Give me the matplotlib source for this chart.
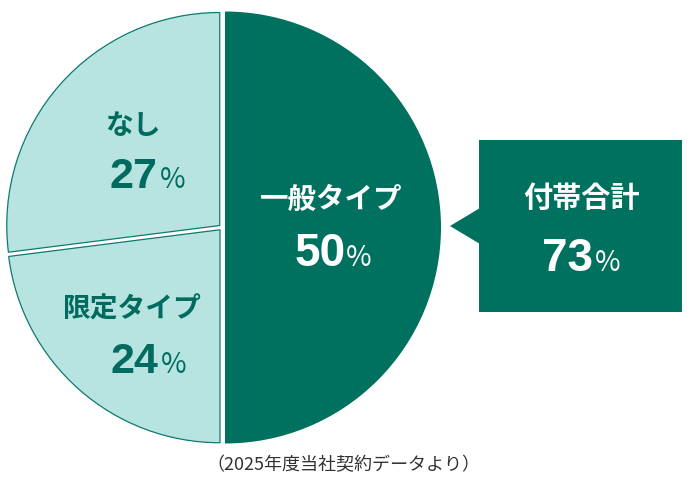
import matplotlib
matplotlib.use("Agg")
import matplotlib.pyplot as plt
from matplotlib.patches import Wedge, Rectangle, Polygon
import numpy as np

plt.rcParams['font.family'] = ['Noto Sans CJK JP', 'DejaVu Sans']

# ---- data ----
categories = ["一般タイプ", "なし", "限定タイプ"]
values = [50, 27, 24]
total_label = "付帯合計"
total_value = 73
footnote = "（2025年度当社契約データより）"

# ---- style ----
W, H = 690, 484
DARK = "#00705f"
LIGHT = "#b7e4e0"
EDGE = "#0e7a6e"
LTEXT = "#006b5e"

fig = plt.figure(figsize=(W / 100, H / 100), dpi=100)
ax = fig.add_axes([0, 0, 1, 1])
ax.set_xlim(0, W)
ax.set_ylim(0, H)
ax.set_aspect("equal")
ax.axis("off")

def Y(y_img):
    return H - y_img

cx, cy = 222, Y(227.5)
radii = [216, 213, 213]
faces = [DARK, LIGHT, LIGHT]
edges = [DARK, EDGE, EDGE]
d = 3.0

# angles: 一般 clockwise from top, なし counterclockwise from top, 限定 fills to bottom
a_gen = (90 - values[0] * 3.6, 90)
a_nashi = (90, 90 + values[1] * 3.6)
a_gen2 = (a_nashi[1], 270)
angles = [a_gen, a_nashi, a_gen2]

for (t1, t2), r, fc, ec in zip(angles, radii, faces, edges):
    mid = np.deg2rad((t1 + t2) / 2)
    ox, oy = d * np.cos(mid), d * np.sin(mid)
    w = Wedge((cx + ox, cy + oy), r, t1, t2, facecolor=fc, edgecolor=ec,
              linewidth=0.9 if fc == LIGHT else 0)
    ax.add_patch(w)

# ---- labels ----
num_font = dict(family=['Liberation Sans', 'DejaVu Sans'], fontweight='bold')
pct_font = dict(family=['Noto Sans CJK JP', 'DejaVu Sans'], fontweight='normal')

def label(name, val, lx, ly, num_right, base_y, pct_left, color, lsize, nsize, psize):
    ax.text(lx, Y(ly), name, ha='center', va='center', fontsize=lsize,
            fontweight='bold', color=color)
    ax.text(num_right, Y(base_y), f"{val}", ha='right', va='baseline',
            fontsize=nsize, color=color, **num_font)
    ax.text(pct_left, Y(base_y), "%", ha='left', va='baseline',
            fontsize=psize, color=color, **pct_font)

label(categories[0], values[0], 331, 200, 346, 266, 346, "white", 20.5, 33, 20)
label(categories[1], values[1], 133, 126, 157, 188, 160, LTEXT, 20, 31, 20)
label(categories[2], values[2], 132, 310, 158, 373, 161, LTEXT, 20, 31, 20)

# ---- callout ----
ax.add_patch(Rectangle((479, Y(312)), 682 - 479, 312 - 140, facecolor=DARK,
                       edgecolor='none'))
ax.add_patch(Polygon([(450, Y(226)), (480, Y(208)), (480, Y(244))],
                     closed=True, facecolor=DARK, edgecolor='none'))
label(total_label, total_value, 581, 198, 593, 271, 595, "white", 21, 33, 20)

ax.text(343.5, Y(465), footnote, ha='center', va='center', fontsize=13,
        color="#333333")

fig.savefig("out.png", dpi=100)
